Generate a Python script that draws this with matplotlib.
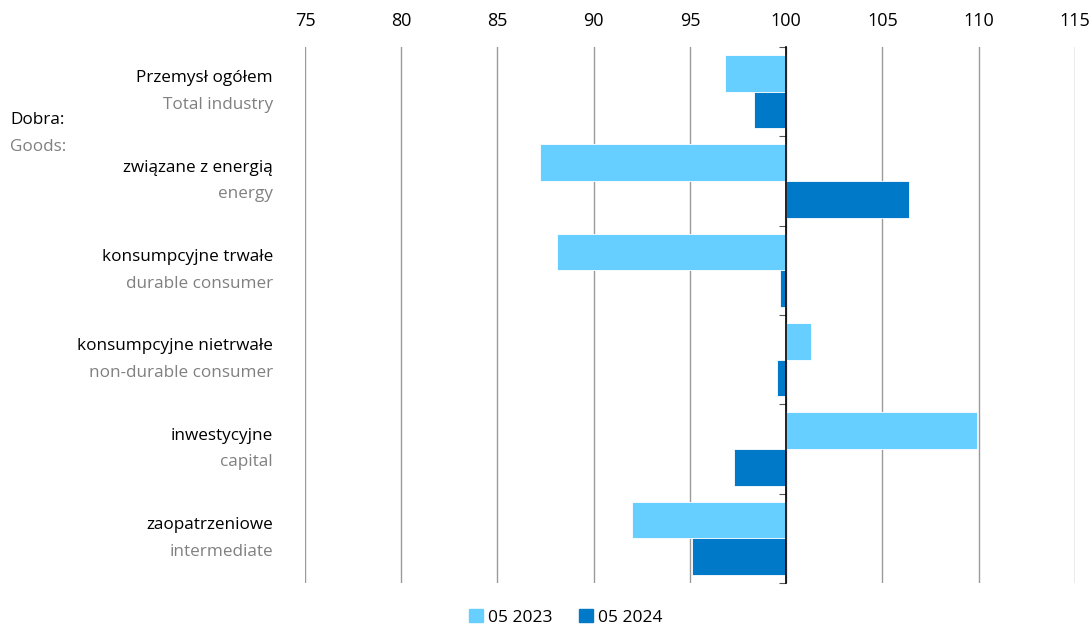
import matplotlib.pyplot as plt
from matplotlib.patches import Patch
from matplotlib.transforms import blended_transform_factory

labels_pl = ['Przemysł ogółem', 'związane z energią', 'konsumpcyjne trwałe',
             'konsumpcyjne nietrwałe', 'inwestycyjne', 'zaopatrzeniowe']
labels_en = ['Total industry', 'energy', 'durable consumer',
             'non-durable consumer', 'capital', 'intermediate']
v2023 = [96.8, 87.2, 88.1, 101.3, 109.9, 92.0]
v2024 = [98.3, 106.4, 99.7, 99.5, 97.3, 95.1]
series_names = ['05 2023', '05 2024']

c23 = '#66CFFF'
c24 = '#0079C8'
plt.rcParams['font.family'] = ['Open Sans', 'DejaVu Sans']

fig = plt.figure(figsize=(10.92, 6.28), dpi=100)
ax = fig.add_axes([0.2793, 0.0717, 0.7051, 0.8535])

pos = list(range(len(labels_pl)))
h = 0.41
ax.barh([p - h / 2 for p in pos], [v - 100 for v in v2023], left=100, height=h,
        color=c23, edgecolor='white', linewidth=0.6, zorder=3)
ax.barh([p + h / 2 for p in pos], [v - 100 for v in v2024], left=100, height=h,
        color=c24, edgecolor='white', linewidth=0.6, zorder=3)

ax.set_xlim(75, 115)
ax.set_ylim(len(pos) - 0.5, -0.5)
ax.set_xticks(range(75, 116, 5))
ax.xaxis.tick_top()
ax.tick_params(axis='x', length=0, labelsize=13, pad=12)
ax.grid(axis='x', color='#9a9a9a', linewidth=1, zorder=0)
ax.set_axisbelow(True)

for s in ['top', 'right', 'bottom']:
    ax.spines[s].set_visible(False)
ax.spines['left'].set_position(('data', 100))
ax.spines['left'].set_color('black')
ax.spines['left'].set_linewidth(1.2)
ax.spines['left'].set_zorder(4)
ax.set_yticks([p - 0.5 for p in pos] + [len(pos) - 0.5])
ax.set_yticklabels([])
ax.tick_params(axis='y', length=5, direction='out', color='#555555')

tr = blended_transform_factory(ax.transAxes, ax.transData)
for i in pos:
    ax.text(-0.0416, i - 0.15, labels_pl[i], transform=tr, ha='right', va='center',
            fontsize=12.3, color='black')
    ax.text(-0.0416, i + 0.15, labels_en[i], transform=tr, ha='right', va='center',
            fontsize=12.3, color='#808080')
ax.text(-0.383, 0.32, 'Dobra:', transform=tr, ha='left', va='center', fontsize=12.3, color='black')
ax.text(-0.383, 0.62, 'Goods:', transform=tr, ha='left', va='center', fontsize=12.3, color='#808080')

handles = [Patch(color=c23), Patch(color=c24)]
fig.legend(handles, series_names, loc='center', bbox_to_anchor=(0.518, 0.017), ncol=2,
           frameon=False, fontsize=12.5, handlelength=0.8, handleheight=0.8,
           handletextpad=0.3, columnspacing=1.5)

fig.savefig('out.png', dpi=100)
